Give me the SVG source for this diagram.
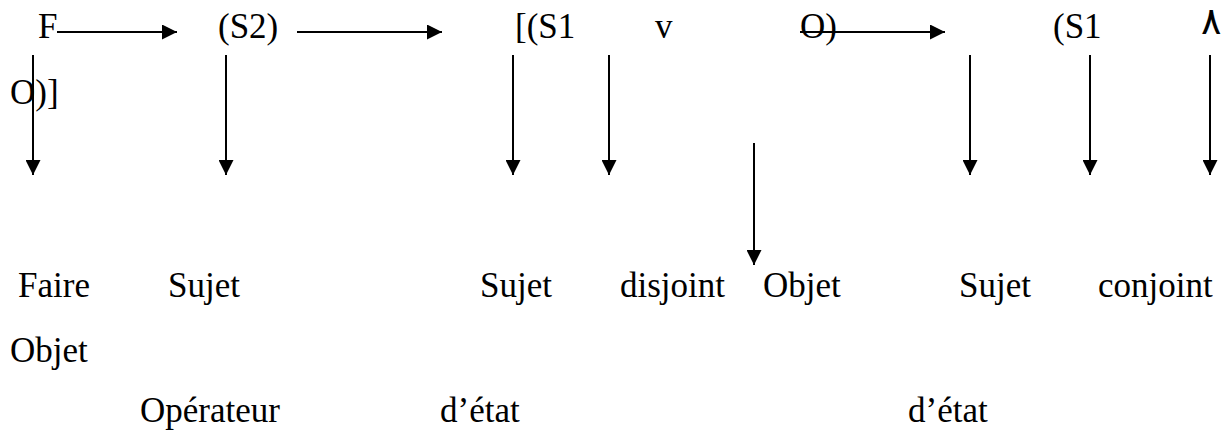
<svg xmlns="http://www.w3.org/2000/svg" width="1232" height="432" viewBox="0 0 1232 432">
<style>
text{font-family:"Liberation Serif","Times New Roman",serif;font-size:35px;fill:#000}
.ar{font-family:"DejaVu Sans","Noto Sans",sans-serif;font-size:38px}
.c{stroke:#000;stroke-width:2;fill:none;marker-end:url(#ah)}
</style>
<defs>
<marker id="ah" markerUnits="userSpaceOnUse" markerWidth="15" markerHeight="15" refX="15" refY="7.5" orient="auto">
<path d="M0,0 L15,7.5 L0,15 z" fill="#000"/>
</marker>
</defs>
<rect width="1232" height="432" fill="#fff"/>
<g id="row1">
<text id="n-F" x="38" y="38">F</text>
<text id="n-S2" x="218" y="38">(S2)</text>
<text id="n-S1a" x="515" y="38">[(S1</text>
<text id="n-v" x="655" y="38">v</text>
<text id="n-O" x="800" y="38">O)</text>
<text id="n-S1b" x="1053" y="38">(S1</text>
<text id="n-and" class="ar" x="1201" y="34">٨</text>
</g>
<g id="row2"><text id="n-O2" x="10" y="104">O)]</text></g>
<g id="row3">
<text id="n-faire" x="18" y="297">Faire</text>
<text id="n-sujet1" x="168" y="297">Sujet</text>
<text id="n-sujet2" x="480" y="297">Sujet</text>
<text id="n-disjoint" x="620" y="297">disjoint</text>
<text id="n-objet1" x="763" y="297">Objet</text>
<text id="n-sujet3" x="959" y="297">Sujet</text>
<text id="n-conjoint" x="1098" y="297">conjoint</text>
</g>
<g id="row4"><text id="n-objet2" x="10" y="362">Objet</text></g>
<g id="row5">
<text id="n-operateur" x="140" y="422">Opérateur</text>
<text id="n-etat1" x="440" y="422">d’état</text>
<text id="n-etat2" x="908" y="422">d’état</text>
</g>
<g id="connectors">
<line class="c" x1="57" y1="32" x2="177" y2="32"/>
<line class="c" x1="297" y1="32" x2="442" y2="32"/>
<line class="c" x1="800" y1="32" x2="945" y2="32"/>
<line class="c" x1="33" y1="55" x2="33" y2="175"/>
<line class="c" x1="226" y1="55" x2="226" y2="175"/>
<line class="c" x1="513" y1="55" x2="513" y2="175"/>
<line class="c" x1="609" y1="55" x2="609" y2="175"/>
<line class="c" x1="754" y1="143" x2="754" y2="265"/>
<line class="c" x1="970" y1="55" x2="970" y2="175"/>
<line class="c" x1="1090" y1="55" x2="1090" y2="175"/>
<line class="c" x1="1210" y1="55" x2="1210" y2="175"/>
</g>
</svg>
